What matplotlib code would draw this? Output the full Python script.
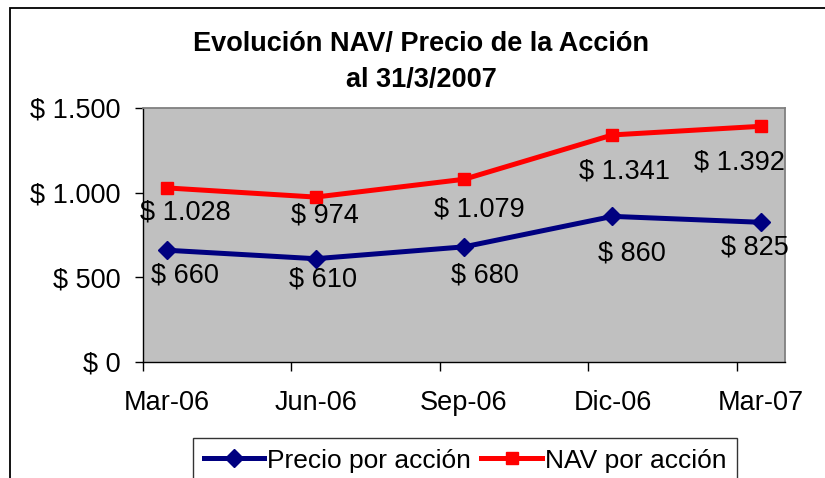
import matplotlib
matplotlib.use("Agg")
import matplotlib.pyplot as plt
from matplotlib.patches import Rectangle
from matplotlib.lines import Line2D

plt.rcParams['font.family'] = ['Liberation Sans', 'DejaVu Sans']

# ---- data ----
categories = ["Mar-06", "Jun-06", "Sep-06", "Dic-06", "Mar-07"]
precio = [660, 610, 680, 860, 825]
nav = [1028, 974, 1079, 1341, 1392]
precio_labels = ["$ 660", "$ 610", "$ 680", "$ 860", "$ 825"]
nav_labels = ["$ 1.028", "$ 974", "$ 1.079", "$ 1.341", "$ 1.392"]
y_ticks = [0, 500, 1000, 1500]
y_tick_labels = ["$ 0", "$ 500", "$ 1.000", "$ 1.500"]
title = "Evolución NAV/ Precio de la Acción\nal 31/3/2007"
series_names = ["Precio por acción", "NAV por acción"]

# label offsets in pixels (dx, dy downwards)
nav_off = [(18, 25), (9, 18), (15, 30), (12, 37), (-22, 36)]
precio_off = [(18, 25), (7, 21), (21, 29), (19, 37), (-6, 25)]

W, H = 825, 478
fig = plt.figure(figsize=(W / 100, H / 100), dpi=100)
fig.patch.set_facecolor("white")

# chart border (cropped on right and bottom)
fig.patches.append(Rectangle((10 / W, -0.1), 1.2, 1.1 - 8 / H, transform=fig.transFigure,
                             fill=False, edgecolor="black", linewidth=1.3, zorder=0))

ax = fig.add_axes([143 / W, 1 - 362 / H, (785 - 143) / W, (362 - 108) / H])
ax.set_facecolor("#C0C0C0")

x = list(range(len(categories)))
navy = "#000080"
red = "#FF0000"
ax.plot(x, precio, color=navy, lw=3.6, marker="D", ms=9.5, mfc=navy, mec=navy, zorder=3)
ax.plot(x, nav, color=red, lw=3.6, marker="s", ms=8.5, mfc=red, mec=red, zorder=3)

fs = 19.5
for i in x:
    ax.annotate(nav_labels[i], (i, nav[i]), xytext=(nav_off[i][0], -nav_off[i][1]),
                textcoords="offset pixels", ha="center", va="center", fontsize=fs, zorder=4)
    ax.annotate(precio_labels[i], (i, precio[i]), xytext=(precio_off[i][0], -precio_off[i][1]),
                textcoords="offset pixels", ha="center", va="center", fontsize=fs, zorder=4)

off = 0.162
ax.set_xlim(-off, len(categories) - 1 + off)
ax.set_ylim(0, 1500)
ax.set_yticks(y_ticks)
ax.set_yticklabels(y_tick_labels, fontsize=fs)
ax.tick_params(axis="y", direction="out", length=6, width=1, pad=10, colors="black")

ax.set_xticks([i - off for i in x])
ax.set_xticklabels([])
ax.tick_params(axis="x", which="major", direction="out", length=6.5, width=1)
ax.set_xticks(x, minor=True)
ax.set_xticklabels(categories, minor=True, fontsize=fs)
ax.tick_params(axis="x", which="minor", length=0, pad=20)

for s in ["left", "bottom"]:
    ax.spines[s].set_color("black")
    ax.spines[s].set_linewidth(1)
for s in ["top", "right"]:
    ax.spines[s].set_color("#808080")
    ax.spines[s].set_linewidth(1.3)

fig.text(421 / W, 1 - 62 / H, title, ha="center", va="center", fontsize=19.5,
         fontweight="bold", linespacing=1.45)

handles = [Line2D([], [], color=navy, lw=3.6, marker="D", ms=9.5),
           Line2D([], [], color=red, lw=3.6, marker="s", ms=8.5)]
leg = fig.legend(handles, series_names, loc="upper left",
                 bbox_to_anchor=(193 / W, 1 - 438 / H), ncol=2, fontsize=19,
                 frameon=True, fancybox=False, edgecolor="black", handlelength=2.3,
                 handletextpad=0.1, columnspacing=0.4, borderpad=0.4, borderaxespad=0)
leg.get_frame().set_linewidth(1)

fig.savefig("out.png", dpi=100)
